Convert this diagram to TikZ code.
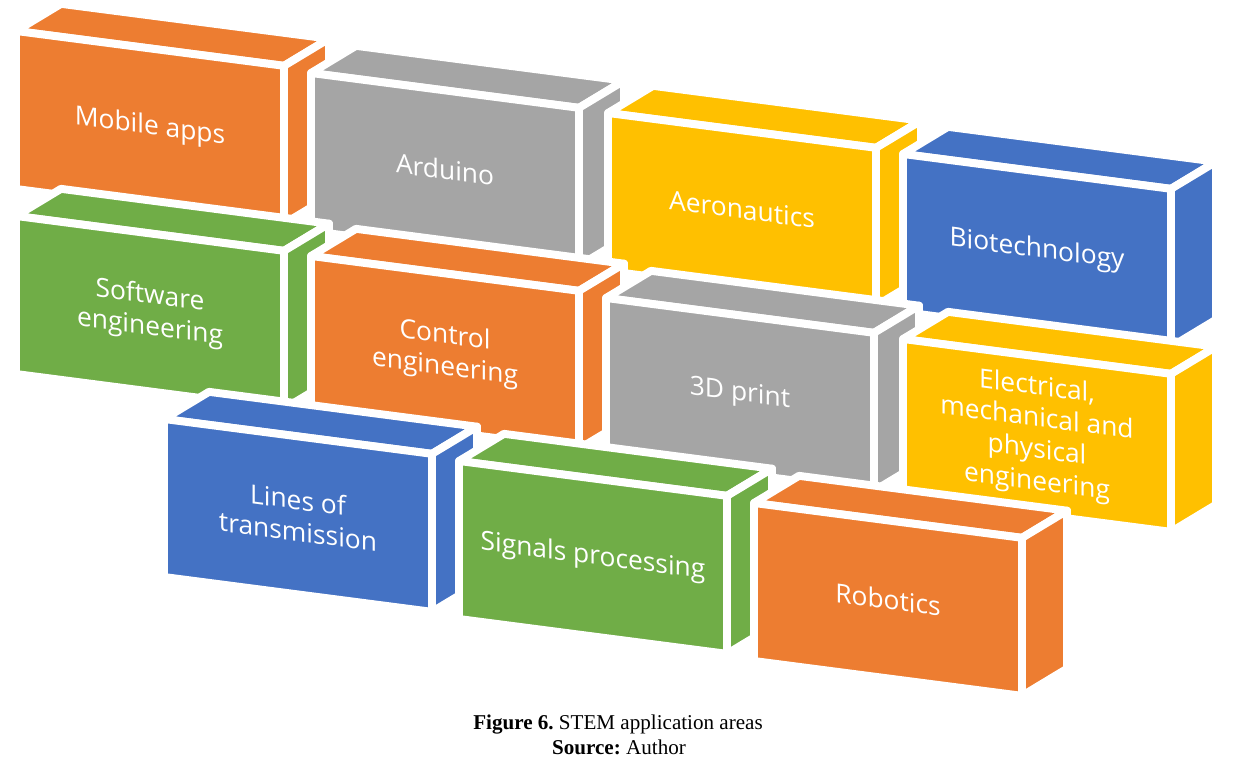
\documentclass[tikz,border=0pt]{standalone}
\usepackage{fontspec}
\setmainfont{Liberation Serif}
\newfontfamily\brickfont{Open Sans}
\usepackage{tikz}

\definecolor{brickorange}{HTML}{ED7D31}
\definecolor{brickgray}{HTML}{A5A5A5}
\definecolor{brickyellow}{HTML}{FFC000}
\definecolor{brickblue}{HTML}{4472C4}
\definecolor{brickgreen}{HTML}{70AD47}

\tikzset{
	face/.style={draw=white, line width=4.5pt, line join=round},
	bricklabel/.style={text=white, align=center, transform shape,
		font=\brickfont\fontsize{15}{18}\selectfont}
}

% #1 name, #2 lower left corner, #3 colour, #4 text
\newcommand{\brick}[4]{%
	\begin{scope}[shift={#2}, yslant=-0.13]
		\fill[#3, face] (0,3.16) -- ++(0.9,0.66) -- ++(5.36,0) -- (5.36,3.16) -- cycle;
		\fill[#3, face] (5.36,0) -- ++(0.9,0.66) -- ++(0,3.16) -- (5.36,3.16) -- cycle;
		\fill[#3, face] (0,0) rectangle (5.36,3.16);
		\node[bricklabel] (#1) at (2.68,1.58) {#4};
	\end{scope}}

\begin{document}
\begin{tikzpicture}
	\useasboundingbox (0,0) rectangle (24.92,15.24);
	
	\brick{mobile}{(0.32,11.46)}{brickorange}{Mobile apps}
	\brick{arduino}{(6.22,10.62)}{brickgray}{Arduino}
	\brick{aero}{(12.16,9.82)}{brickyellow}{Aeronautics}
	\brick{biotech}{(18.06,9.00)}{brickblue}{Biotechnology}
	
	\brick{software}{(0.32,7.76)}{brickgreen}{Software\\engineering}
	\brick{control}{(6.22,6.96)}{brickorange}{Control\\engineering}
	\brick{print}{(12.12,6.12)}{brickgray}{3D print}
	\brick{electrical}{(18.06,5.30)}{brickyellow}{Electrical,\\mechanical and\\physical\\engineering}
	
	\brick{lines}{(3.28,3.70)}{brickblue}{Lines of\\transmission}
	\brick{signals}{(9.18,2.86)}{brickgreen}{Signals processing}
	\brick{robotics}{(15.08,2.02)}{brickorange}{Robotics}
	
	\node[anchor=base, font=\fontsize{12}{14}\selectfont] (caption) at (12.36,0.66) {\textbf{Figure 6.}\ STEM application areas};
	\node[anchor=base, font=\fontsize{12}{14}\selectfont] (source) at (12.38,0.16) {\textbf{Source:}\ Author};
\end{tikzpicture}
\end{document}
